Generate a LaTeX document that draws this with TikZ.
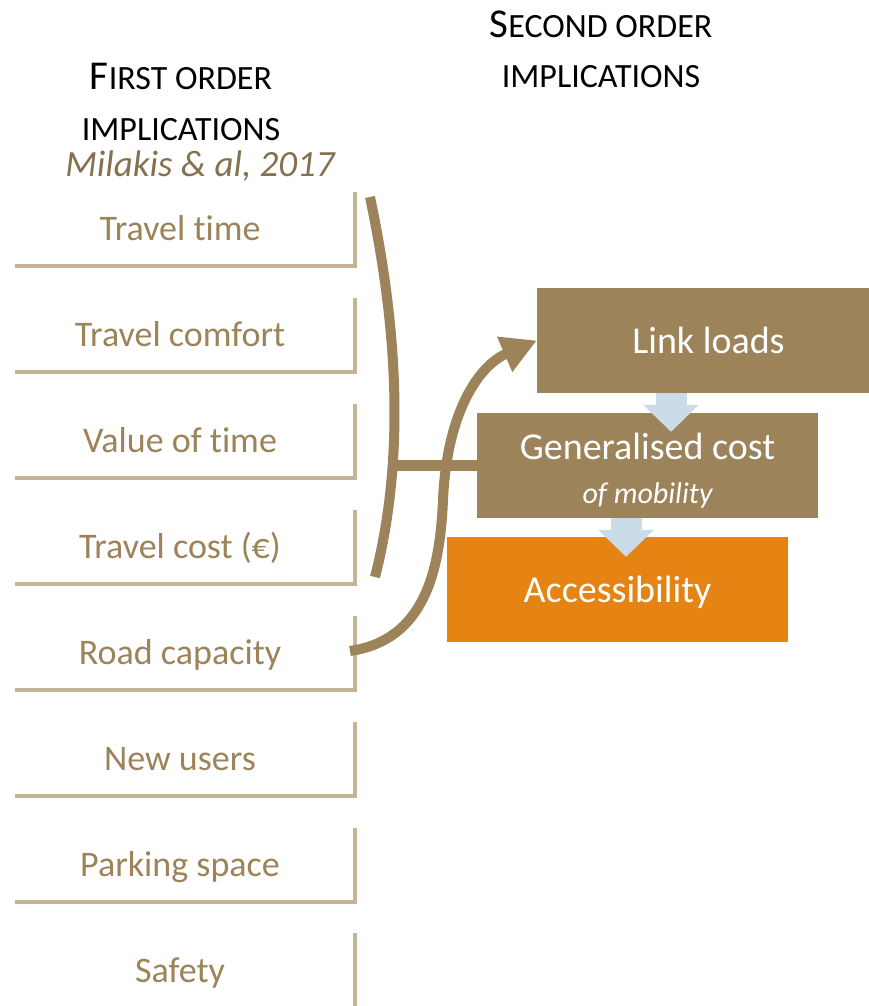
\documentclass[tikz,border=0pt]{standalone}
\usepackage{fontspec}
\setmainfont[Ligatures=NoCommon]{Carlito}
\usetikzlibrary{arrows.meta}
\definecolor{itemtan}{HTML}{9C8358}
\definecolor{linetan}{HTML}{C5B597}
\definecolor{brownbox}{HTML}{9C8359}
\definecolor{orangebox}{HTML}{E58313}
\definecolor{lightblue}{HTML}{C9DCE8}
\definecolor{citetan}{HTML}{857050}
\newcommand\bigsc[1]{{\fontsize{41}{44}\selectfont #1}}
\newcommand\smsc[1]{{\fontsize{34}{44}\selectfont #1}}
\begin{document}
\begin{tikzpicture}[x=1pt,y=-1pt,
  item/.style={anchor=base, text=itemtan, font=\fontsize{36}{40}\selectfont, inner sep=0pt},
  head/.style={anchor=base, inner sep=0pt},
  sep/.style={draw=linetan, line width=3.5pt},
  box/.style={fill=brownbox, text=white, inner sep=0pt, minimum width=341pt, minimum height=105pt, font=\fontsize{38}{42}\selectfont},
  oneline/.style={text height=26pt, text depth=0pt},
  flow/.style={draw=brownbox, line width=10pt},
  down/.style={draw=lightblue, line width=31pt, -{Triangle[length=27pt,width=54pt]}}]
\useasboundingbox (0,0) rectangle (869,1006);

% headings
\node[head] (h1a) at (181,90) {\bigsc{F}\smsc{IRST ORDER}};
\node[head] (h1b) at (181,140) {\smsc{IMPLICATIONS}};
\node[head, text=citetan, font=\itshape\fontsize{37}{40}\selectfont] (cite) at (200,176) {Milakis \& al, 2017};
\node[head] (h2a) at (601,38) {\bigsc{S}\smsc{ECOND ORDER}};
\node[head] (h2b) at (601,88) {\smsc{IMPLICATIONS}};

% first order items
\foreach \i/\t/\n in {0/Travel time/tt, 1/Travel comfort/tc, 2/Value of time/vt, 3/Travel cost (€)/tcost, 4/Road capacity/rc, 5/New users/nu, 6/Parking space/ps}{
  \node[item] (\n) at (180,{240+106*\i}) {\t};
  \draw[sep] (15,{266+106*\i}) -- (354.75,{266+106*\i}) -- (354.75,{192+106*\i});
}
\node[item] (saf) at (180,982) {Safety};
\draw[sep] (354.75,933) -- (354.75,1010);

% second order boxes
\node[box, oneline, minimum width=343pt] (link) at (708.5,340.5) {Link loads};
\node[box, label={[text=white, align=center, inner sep=0pt, font=\fontsize{38}{42}\selectfont, yshift=-5pt]center:Generalised cost\\[2pt]{\itshape\fontsize{30}{32}\selectfont of mobility}}] (gen) at (647.5,465.5) {};
\node[box, oneline, fill=orangebox] (acc) at (617.5,589.5) {Accessibility};

% brown connectors
\coordinate (top) at (370,197);
\coordinate (bot) at (375,577);
\coordinate (bar) at (390,465);
\coordinate (rcend) at (350,651);
\draw[flow] (top) .. controls (398,330) and (405,460) .. (bot);
\draw[flow, line width=11pt] (bar) -- (gen.west |- bar);
\draw[flow, -{Triangle[length=35pt,width=36pt]}] (rcend) .. controls (425,640) and (440,570) .. (443,500) .. controls (447,410) and (480,365) .. (link.west);

% blue arrows
\draw[down] ([xshift=-37.5pt]link.south) -- ([xshift=23.5pt,yshift=-19pt]gen.north);
\draw[down] ([xshift=-21.5pt]gen.south) -- ([xshift=8.5pt,yshift=-20pt]acc.north);
\end{tikzpicture}
\end{document}
